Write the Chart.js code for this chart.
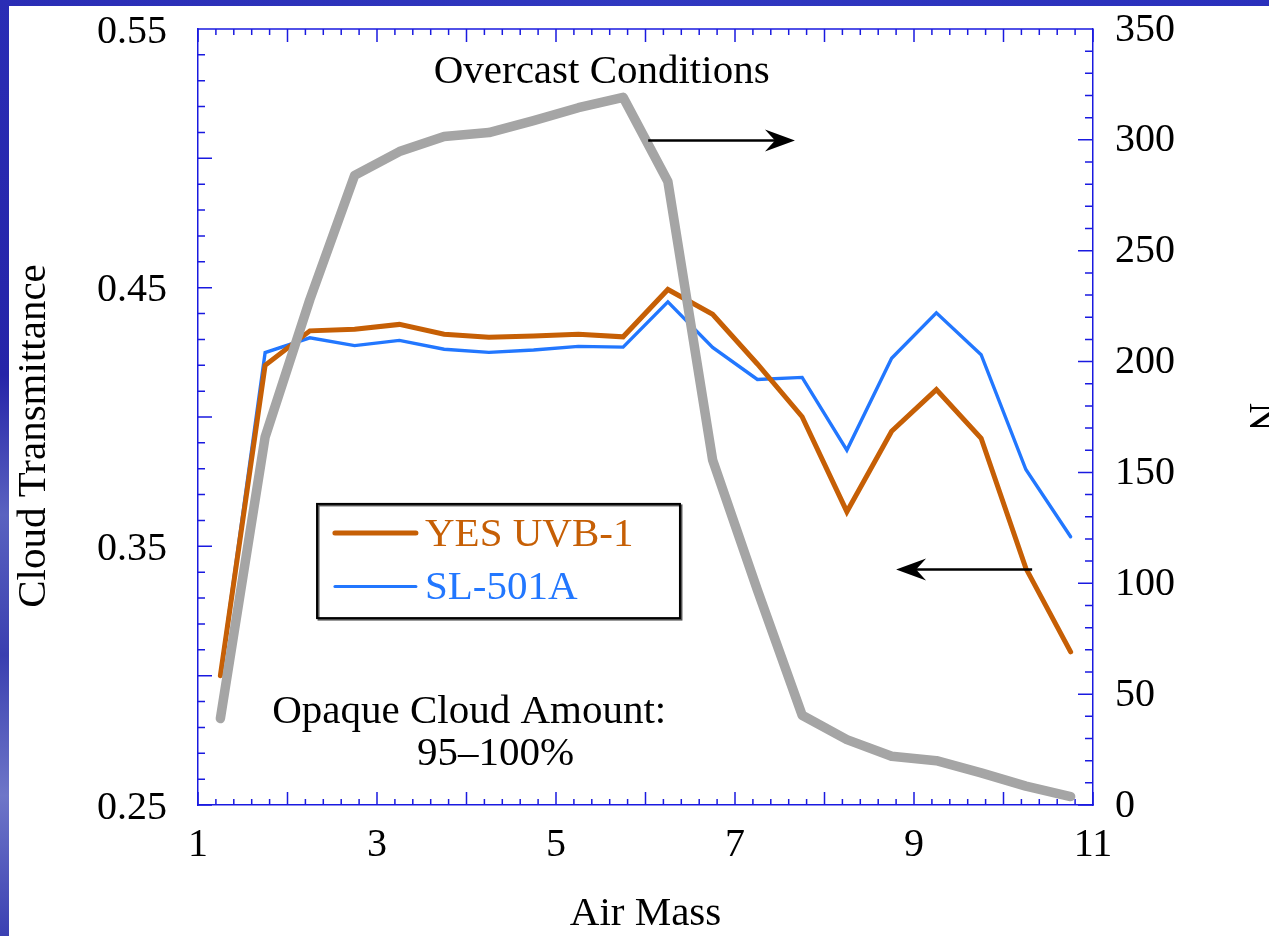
<!DOCTYPE html>
<html>
<head>
<meta charset="utf-8">
<script src="https://cdn.jsdelivr.net/npm/chart.js@4.4.1/dist/chart.umd.min.js"></script>
<style>
  html, body { margin: 0; padding: 0; overflow: hidden; }
  body { width: 1269px; height: 936px; background: #ffffff; position: relative; }
  #leftStrip { position: absolute; left: 0; top: 0; width: 9px; height: 936px;
    background: linear-gradient(180deg, #2a2db5 0%, #2524a8 40%, #5a62c0 55%, #3a3fb0 70%, #6e76c8 85%, #3b40b2 100%); }
  #topStrip { position: absolute; left: 0; top: 0; width: 1269px; height: 6px;
    background: linear-gradient(90deg, #2a2db5 0%, #3038c0 50%, #2a30bc 100%); }
  #chart { position: absolute; left: 0; top: 0; }
</style>
</head>
<body>
<div id="leftStrip"></div>
<div id="topStrip"></div>
<canvas id="chart" width="1269" height="936"></canvas>
<script>
// air mass bins
const airMass = [1.25, 1.75, 2.25, 2.75, 3.25, 3.75, 4.25, 4.75, 5.25, 5.75,
  6.25, 6.75, 7.25, 7.75, 8.25, 8.75, 9.25, 9.75, 10.25, 10.75];

// cloud transmittance (left axis)
const yesUvb1 = [0.300, 0.4200, 0.4333, 0.4339, 0.4358, 0.4320, 0.4308, 0.4313, 0.4320, 0.4310,
  0.4493, 0.4397, 0.4205, 0.4001, 0.3634, 0.3945, 0.4106, 0.3918, 0.3415, 0.3092];
const sl501a = [0.300, 0.4249, 0.4306, 0.4276, 0.4296, 0.4262, 0.4250, 0.4259, 0.4273, 0.4270,
  0.4445, 0.4269, 0.4145, 0.4153, 0.3872, 0.4227, 0.4403, 0.4241, 0.3797, 0.3537];

// number of cases (right axis)
const nCases = [39, 166, 228, 284, 294.7, 301.5, 303.3, 308.7, 314.5, 319.2,
  281.2, 155.6, 97, 40.5, 29.5, 22, 20, 14.5, 8.5, 3.8];

// tick labels
const xTicks = [1, 3, 5, 7, 9, 11];
const leftTicks = [0.25, 0.35, 0.45, 0.55];
const rightTicks = [0, 50, 100, 150, 200, 250, 300, 350];

const FONT = "'Liberation Serif', 'Times New Roman', serif";
const AXIS_BLUE = "#1a1ae0";
const ORANGE = "#c65f05";
const BLUE = "#2277ff";
const GRAY = "#a5a5a5";

function pts(ys) {
  return airMass.map(function (x, i) { return { x: x, y: ys[i] }; });
}

// fixed axis sizes so the plot box sits where the original has it
function fixWidth(w) {
  return function (s) { s.width = w; s.paddingTop = 0; s.paddingBottom = 0; };
}

// inward ticks, top border, legend, notes and arrows
const decor = {
  id: "decor",
  beforeDatasetsDraw(chart) {
    const ctx = chart.ctx;
    const a = chart.chartArea;
    const sx = chart.scales.x, sl = chart.scales.y, sr = chart.scales.y1;
    ctx.save();
    ctx.strokeStyle = AXIS_BLUE;
    ctx.lineWidth = 1.5;
    ctx.beginPath();
    ctx.moveTo(a.left, a.top);
    ctx.lineTo(a.right, a.top);
    // x ticks: every 0.2, major on integers
    for (let i = 0; i <= 50; i++) {
      const v = 1 + i * 0.2;
      const px = sx.getPixelForValue(v);
      const len = i % 5 === 0 ? 13 : 6;
      ctx.moveTo(px, a.bottom); ctx.lineTo(px, a.bottom - len);
      ctx.moveTo(px, a.top); ctx.lineTo(px, a.top + len);
    }
    // left ticks: every 0.01, major every 0.05
    for (let i = 0; i <= 30; i++) {
      const py = sl.getPixelForValue(0.25 + i * 0.01);
      const len = i % 5 === 0 ? 14 : 7;
      ctx.moveTo(a.left, py); ctx.lineTo(a.left + len, py);
    }
    // right ticks: every 10, major every 50
    for (let i = 0; i <= 35; i++) {
      const py = sr.getPixelForValue(i * 10);
      const len = i % 5 === 0 ? 15 : 8;
      ctx.moveTo(a.right, py); ctx.lineTo(a.right - len, py);
    }
    ctx.stroke();

    // left axis title, sits a bit below the middle in the original
    ctx.fillStyle = "#000";
    ctx.font = "41px " + FONT;
    ctx.textAlign = "center";
    ctx.textBaseline = "middle";
    ctx.translate(34, (a.top + a.bottom) / 2 + 19);
    ctx.rotate(-Math.PI / 2);
    ctx.fillText("Cloud Transmittance", 0, 0);
    ctx.restore();
  },
  afterDatasetsDraw(chart) {
    const ctx = chart.ctx;
    const sx = chart.scales.x, sr = chart.scales.y1;
    const X = function (v) { return sx.getPixelForValue(v); };
    const Y = function (v) { return sr.getPixelForValue(v); };
    ctx.save();
    ctx.font = "41px " + FONT;
    ctx.fillStyle = "#000";
    ctx.textAlign = "center";
    ctx.textBaseline = "alphabetic";
    ctx.fillText("Overcast Conditions", X(5.51), Y(325.7));
    ctx.fillText("Opaque Cloud Amount:", X(4.03), Y(37.0));
    ctx.fillText("95\u2013100%", X(4.325), Y(18.0));

    // arrows
    function arrow(x0, x1, yv) {
      const y = Math.round(Y(yv)) + 0.5;
      const p0 = X(x0), p1 = X(x1);
      const dir = p1 > p0 ? 1 : -1;
      ctx.strokeStyle = "#000";
      ctx.lineWidth = 2.5;
      ctx.beginPath();
      ctx.moveTo(p0, y);
      ctx.lineTo(p1 - dir * 12, y);
      ctx.stroke();
      ctx.beginPath();
      ctx.moveTo(p1, y);
      ctx.lineTo(p1 - dir * 30, y - 11);
      ctx.lineTo(p1 - dir * 20, y);
      ctx.lineTo(p1 - dir * 30, y + 11);
      ctx.closePath();
      ctx.fillStyle = "#000";
      ctx.fill();
    }
    arrow(6.03, 7.67, 300);
    arrow(10.32, 8.8, 106.5);

    // legend box
    const bx0 = X(2.33), bx1 = X(6.385), by0 = Y(135.8), by1 = Y(84.3);
    ctx.fillStyle = "#fff";
    ctx.fillRect(bx0, by0, bx1 - bx0, by1 - by0);
    ctx.strokeStyle = "#555";
    ctx.lineWidth = 2;
    ctx.strokeRect(bx0 + 1.5, by0 + 1.5, bx1 - bx0, by1 - by0);
    ctx.strokeStyle = "#000";
    ctx.strokeRect(bx0, by0, bx1 - bx0, by1 - by0);
    const rows = [
      { label: "YES UVB-1", color: ORANGE, width: 5, y: 122.7 },
      { label: "SL-501A", color: BLUE, width: 3, y: 98.6 }
    ];
    ctx.textAlign = "left";
    ctx.textBaseline = "middle";
    rows.forEach(function (r) {
      const y = Y(r.y);
      ctx.strokeStyle = r.color;
      ctx.lineWidth = r.width;
      ctx.lineCap = "round";
      ctx.beginPath();
      ctx.moveTo(X(2.53), y);
      ctx.lineTo(X(3.435), y);
      ctx.stroke();
      ctx.fillStyle = r.color;
      ctx.fillText(r.label, X(3.536), y + 2);
    });
    ctx.restore();
  }
};

const ctx = document.getElementById("chart").getContext("2d");
const myChart = new Chart(ctx, {
  type: "line",
  data: {
    datasets: [
      {
        label: "N",
        data: pts(nCases),
        yAxisID: "y1",
        borderColor: GRAY,
        borderWidth: 9.5,
        borderCapStyle: "round",
        borderJoinStyle: "round",
        pointRadius: 0,
        tension: 0,
        order: 0
      },
      {
        label: "YES UVB-1",
        data: pts(yesUvb1),
        yAxisID: "y",
        borderColor: ORANGE,
        borderWidth: 5,
        borderCapStyle: "round",
        pointRadius: 0,
        tension: 0,
        order: 1
      },
      {
        label: "SL-501A",
        data: pts(sl501a),
        yAxisID: "y",
        borderColor: BLUE,
        borderWidth: 3.4,
        borderCapStyle: "round",
        pointRadius: 0,
        tension: 0,
        order: 2
      }
    ]
  },
  plugins: [decor],
  options: {
    responsive: false,
    animation: false,
    devicePixelRatio: 1,
    layout: { padding: { top: 29, left: 0, right: 0, bottom: 0 } },
    plugins: { legend: { display: false }, tooltip: { enabled: false } },
    scales: {
      x: {
        type: "linear",
        position: "bottom",
        min: 1,
        max: 11,
        afterBuildTicks: function (s) { s.ticks = xTicks.map(function (v) { return { value: v }; }); },
        afterFit: function (s) { s.height = 131; s.paddingLeft = 0; s.paddingRight = 0; },
        grid: { display: false, drawTicks: false },
        border: { display: true, color: AXIS_BLUE, width: 1.5 },
        ticks: { color: "#000", padding: 16, maxRotation: 0, autoSkip: false,
          font: { family: FONT, size: 40, lineHeight: 1.2 } },
        title: { display: true, text: "Air Mass", color: "#000", padding: 0,
          font: { family: FONT, size: 41, lineHeight: 1.05 } }
      },
      y: {
        type: "linear",
        position: "left",
        min: 0.25,
        max: 0.55,
        afterBuildTicks: function (s) { s.ticks = leftTicks.map(function (v) { return { value: v }; }); },
        afterFit: fixWidth(198),
        grid: { display: false, drawTicks: false },
        border: { display: true, color: AXIS_BLUE, width: 1.5 },
        ticks: { color: "#000", padding: 31, labelOffset: 3, autoSkip: false,
          callback: function (v) { return Number(v).toFixed(2); },
          font: { family: FONT, size: 40 } },
        title: { display: false, text: "Cloud Transmittance" }
      },
      y1: {
        type: "linear",
        position: "right",
        min: 0,
        max: 350,
        afterBuildTicks: function (s) { s.ticks = rightTicks.map(function (v) { return { value: v }; }); },
        afterFit: fixWidth(176),
        grid: { display: false, drawTicks: false },
        border: { display: true, color: AXIS_BLUE, width: 1.5 },
        ticks: { color: "#000", padding: 22, labelOffset: 1, autoSkip: false,
          font: { family: FONT, size: 40 } },
        title: { display: true, text: "N", color: "#000", padding: 0,
          font: { family: FONT, size: 40, lineHeight: 0.45 } }
      }
    }
  }
});
</script>
</body>
</html>
